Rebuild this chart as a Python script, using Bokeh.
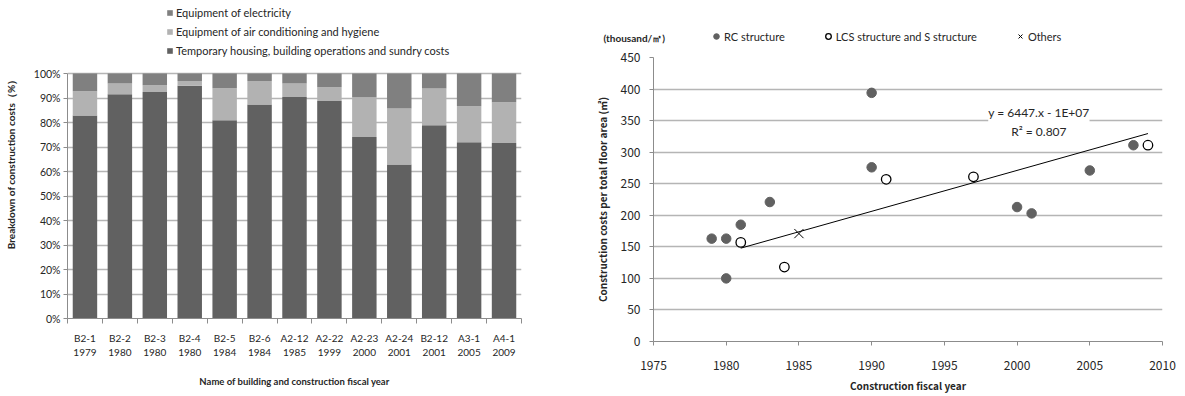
from bokeh.plotting import figure
from bokeh.layouts import row, column
from bokeh.models import (ColumnDataSource, FixedTicker, Legend, LegendItem, Label,
                          PrintfTickFormatter, Range1d)
from bokeh.embed import file_html
from bokeh.resources import INLINE

# ---------------- data: left chart ----------------
names = ["B2-1", "B2-2", "B2-3", "B2-4", "B2-5", "B2-6", "A2-12", "A2-22", "A2-23",
         "A2-24", "B2-12", "A3-1", "A4-1"]
years = ["1979", "1980", "1980", "1980", "1984", "1984", "1985", "1999", "2000",
         "2001", "2001", "2005", "2009"]
temporary = [82.9, 91.5, 92.5, 95.0, 80.9, 87.3, 90.4, 88.8, 74.1, 62.9, 78.9, 71.9, 71.6]
aircon = [9.9, 4.4, 2.7, 1.9, 13.1, 9.6, 5.5, 5.6, 16.2, 22.8, 15.0, 14.7, 16.7]
electricity = [7.2, 4.1, 4.8, 3.1, 6.0, 3.1, 4.1, 5.6, 9.7, 14.3, 6.1, 13.4, 11.7]
pct_ticks = list(range(0, 101, 10))

# ---------------- data: right chart ----------------
rc_year = [1979, 1980, 1980, 1981, 1983, 1990, 1990, 2000, 2001, 2005, 2008]
rc_cost = [163, 163, 100, 185, 221, 394, 276, 213, 203, 271, 311]
lcs_year = [1981, 1984, 1991, 1997, 2009]
lcs_cost = [157, 118, 257, 261, 311]
oth_year = [1985]
oth_cost = [171]
trend_year = [1981, 2009]
trend_cost = [147.9, 329.5]
trend_text = "y = 6447.x - 1E+07\nR² = 0.807"
cost_ticks = list(range(0, 451, 50))
year_ticks = list(range(1975, 2011, 5))

DARK = "#616161"
LIGHT = "#b2b2b2"
MID = "#808080"
GRID = "#b5b5b5"
AXIS = "#8c8c8c"
TXT = "#262626"

# ================= LEFT =================
# frame spans page y 5..318; 0..100 % occupies the lower 245 px
left_top = 100 * 313 / 245
xpos = [i + 0.5 for i in range(len(names))]
src = ColumnDataSource(dict(x=xpos, temporary=temporary, aircon=aircon, electricity=electricity))

left = figure(width=570, height=396, output_backend="svg", toolbar_location=None,
              x_range=Range1d(0, len(names)), y_range=Range1d(0, left_top),
              min_border_left=67, min_border_right=49, min_border_top=5, min_border_bottom=78)
left.frame_align = False
left.outline_line_color = None
left.xgrid.grid_line_color = None
left.ygrid.grid_line_color = GRID
left.ygrid.grid_line_width = 1.5

rs = left.vbar_stack(["temporary", "aircon", "electricity"], x="x", width=0.7,
                     color=[DARK, LIGHT, MID], line_color=None, source=src)

left.xaxis.ticker = FixedTicker(ticks=xpos, minor_ticks=list(range(len(names) + 1)))
left.xaxis.major_label_overrides = {x: f"{n}\n{y}" for x, n, y in zip(xpos, names, years)}
left.xaxis.major_tick_out = 0
left.xaxis.major_tick_in = 0
left.xaxis.minor_tick_out = 5
left.xaxis.minor_tick_in = 0
left.xaxis.minor_tick_line_color = AXIS
left.xaxis.axis_line_color = AXIS
left.xaxis.major_label_standoff = 8
left.xaxis.major_label_text_font = "Lato"
left.xaxis.major_label_text_font_size = "10px"
left.xaxis.major_label_text_color = TXT
left.xaxis.axis_label = "Name of building and construction fiscal year"
left.xaxis.axis_label_text_font = "Lato"
left.xaxis.axis_label_text_font_style = "bold"
left.xaxis.axis_label_text_font_size = "9.5px"
left.xaxis.axis_label_text_color = TXT
left.xaxis.axis_label_standoff = 15

left.yaxis.ticker = FixedTicker(ticks=pct_ticks)
left.yaxis.bounds = (0, 100)
left.yaxis.formatter = PrintfTickFormatter(format="%d%%")
left.yaxis.minor_tick_line_color = None
left.yaxis.major_tick_out = 4
left.yaxis.major_tick_in = 0
left.yaxis.major_tick_line_color = AXIS
left.yaxis.axis_line_color = AXIS
left.yaxis.major_label_standoff = 3
left.yaxis.major_label_text_font = "Lato"
left.yaxis.major_label_text_font_size = "10.5px"
left.yaxis.major_label_text_color = TXT
left.yaxis.axis_label = "Breakdown of construction costs（%）"
left.yaxis.axis_label_text_font = "Lato"
left.yaxis.axis_label_text_font_style = "bold"
left.yaxis.axis_label_text_font_size = "10px"
left.yaxis.axis_label_text_color = TXT
left.yaxis.axis_label_standoff = 14

leg_left = Legend(items=[
    LegendItem(label="Equipment of electricity", renderers=[rs[2]]),
    LegendItem(label="Equipment of air conditioning and hygiene", renderers=[rs[1]]),
    LegendItem(label="Temporary housing, building operations and sundry costs", renderers=[rs[0]]),
], location=(99, 261), orientation="vertical", glyph_width=7, glyph_height=7,
    label_height=14, spacing=5, padding=0, margin=0, label_standoff=3,
    label_text_font="Lato", label_text_font_size="11px", label_text_color=TXT,
    background_fill_alpha=0, border_line_color=None)
left.add_layout(leg_left, "center")

# ================= RIGHT: header with unit and legend =================
HEAD_H = 44
header = figure(width=615, height=HEAD_H, output_backend="svg", toolbar_location=None,
                x_range=Range1d(0, 615), y_range=Range1d(0, HEAD_H),
                min_border_left=0, min_border_right=0, min_border_top=0, min_border_bottom=0)
header.frame_align = False
header.axis.visible = False
header.grid.grid_line_color = None
header.outline_line_color = None

# legend-only renderers, their single point lies outside the visible range
h_rc = header.scatter([-100], [-100], marker="circle", size=9.5, fill_color=DARK, line_color=DARK)
h_lcs = header.scatter([-100], [-100], marker="circle", size=9.5, fill_color="white",
                       line_color="black", line_width=1.3)
h_oth = header.scatter([-100], [-100], marker="x", size=13, line_color="black", line_width=1)

header.add_layout(Label(x=33, y=HEAD_H - 37, text="(thousand/㎡)", text_align="left",
                        text_baseline="middle", text_font="Lato", text_font_style="bold",
                        text_font_size="10px", text_color=TXT))

leg_right = Legend(items=[
    LegendItem(label="RC structure", renderers=[h_rc]),
    LegendItem(label="LCS structure and S structure", renderers=[h_lcs]),
    LegendItem(label="Others", renderers=[h_oth]),
], location=(139, HEAD_H - 43), orientation="horizontal", glyph_width=14, glyph_height=14,
    label_height=14, spacing=36, padding=0, margin=0, label_standoff=1,
    label_text_font="Lato", label_text_font_size="11px", label_text_color=TXT,
    background_fill_alpha=0, border_line_color=None)
header.add_layout(leg_right, "center")

# ================= RIGHT: scatter =================
right = figure(width=615, height=396 - HEAD_H, output_backend="svg", toolbar_location=None,
               x_range=Range1d(1975, 2010), y_range=Range1d(0, 450),
               min_border_left=83, min_border_right=23, min_border_top=57 - HEAD_H,
               min_border_bottom=55)
right.frame_align = False
right.outline_line_color = None
right.xgrid.grid_line_color = None
right.ygrid.grid_line_color = GRID
right.ygrid.grid_line_width = 1.5

right.line(trend_year, trend_cost, line_color="black", line_width=1)
right.scatter(rc_year, rc_cost, marker="circle", size=9.5, fill_color=DARK, line_color=DARK)
right.scatter(lcs_year, lcs_cost, marker="circle", size=9.5, fill_color="white",
              line_color="black", line_width=1.3)
right.scatter(oth_year, oth_cost, marker="x", size=13, line_color="black", line_width=1)

right.xaxis.ticker = FixedTicker(ticks=year_ticks)
right.xaxis.minor_tick_line_color = None
right.xaxis.major_tick_out = 4
right.xaxis.major_tick_in = 0
right.xaxis.major_tick_line_color = AXIS
right.xaxis.axis_line_color = AXIS
right.xaxis.major_label_standoff = 15
right.xaxis.major_label_text_font = "Noto Sans CJK JP"
right.xaxis.major_label_text_font_size = "12px"
right.xaxis.major_label_text_color = TXT
right.xaxis.axis_label = "Construction fiscal year"
right.xaxis.axis_label_text_font = "Noto Sans CJK JP"
right.xaxis.axis_label_text_font_style = "bold"
right.xaxis.axis_label_text_font_size = "10px"
right.xaxis.axis_label_text_color = TXT
right.xaxis.axis_label_standoff = 5

right.yaxis.ticker = FixedTicker(ticks=cost_ticks)
right.yaxis.minor_tick_line_color = None
right.yaxis.major_tick_out = 4
right.yaxis.major_tick_in = 0
right.yaxis.major_tick_line_color = AXIS
right.yaxis.axis_line_color = AXIS
right.yaxis.major_label_standoff = 9
right.yaxis.major_label_text_font = "Noto Sans CJK JP"
right.yaxis.major_label_text_font_size = "12px"
right.yaxis.major_label_text_color = TXT
right.yaxis.axis_label = "Construction costs per total floor area (㎡)"
right.yaxis.axis_label_text_font = "Noto Sans CJK JP"
right.yaxis.axis_label_text_font_style = "bold"
right.yaxis.axis_label_text_font_size = "10px"
right.yaxis.axis_label_text_color = TXT
right.yaxis.axis_label_standoff = 8

right.add_layout(Label(x=2001.5, y=348, text=trend_text, text_align="center",
                       text_baseline="middle", text_font="Lato", text_font_size="12px",
                       text_color=TXT, text_line_height=1.3,
                       background_fill_color="white", background_fill_alpha=1.0))

layout = row(left, column(header, right))
open("out.html", "w").write(file_html(layout, INLINE))
